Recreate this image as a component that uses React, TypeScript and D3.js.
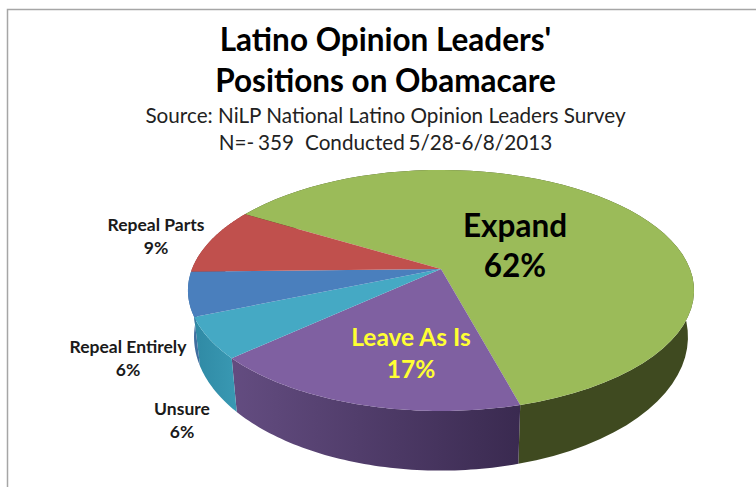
import React from "react";
import * as d3 from "d3";

const categories = ["Expand", "Leave As Is", "Unsure", "Repeal Entirely", "Repeal Parts"];
const shares = [62.2, 17.5, 5.5, 5.9, 8.9];
const topColors = ["#9bbb59", "#7f60a1", "#45a9c4", "#4a7fbd", "#c0504d"];
const wallFrom = ["#3f4a20", "#634c80", "#2e88a3", "#3f6e9f", "#8f3a38"];
const wallTo = ["#3f4a20", "#3a2a50", "#3a9ab4", "#3f6e9f", "#8f3a38"];
const titleLines = ["Latino Opinion Leaders'", "Positions on Obamacare"];
const subtitleLines = ["Source: NiLP National Latino Opinion Leaders Survey", "N=- 359   Conducted 5/28-6/8/2013"];

const W = 756, H = 487;
const apexX = 441, apexY = 269, radX = 249, radY = 116.7, tilt = 0.178;
const wallScaleX = 0.976, wallScaleY = 1.11, wallDrop = 44;
const FONT = "Lato, 'Open Sans', sans-serif";

const top = (a: number): [number, number] => {
  const u = Math.sin(a), v = Math.cos(a), w = 1 + tilt * v;
  return [apexX + (radX * u) / w, apexY - (radY * v) / w];
};
const bottom = (a: number): [number, number] => {
  const [x, y] = top(a);
  return [apexX + (x - apexX) * wallScaleX, apexY + (y - apexY) * wallScaleY + wallDrop];
};
const line = d3.line<[number, number]>();
const start = (300.8 * Math.PI) / 180;
const arcs = d3.pie<number>().sort(null).startAngle(start).endAngle(start + 2 * Math.PI)(shares);
const samples = (a0: number, a1: number) => d3.range(0, 61).map((i) => a0 + ((a1 - a0) * i) / 60);

const labels = [
  { lines: ["Repeal Parts", "9%"], x: 156, y: 231, size: 17.5, color: "#1a1a1a" },
  { lines: ["Repeal Entirely", "6%"], x: 128, y: 353, size: 17.5, color: "#1a1a1a" },
  { lines: ["Unsure", "6%"], x: 182, y: 415, size: 17.5, color: "#1a1a1a" },
  { lines: ["Leave As Is", "17%"], x: 411, y: 346, size: 24.5, color: "#ffff33", gap: 32 },
  { lines: ["Expand", "62%"], x: 515, y: 237, size: 31.5, color: "#000000", gap: 40 },
];

export default function App() {
  return (
    <svg width={W} height={H} style={{ position: "absolute", left: 0, top: 0, background: "#fff" }}>
      <defs>
        {arcs.map((_, i) => (
          <linearGradient key={i} id={`wall${i}`} gradientUnits="userSpaceOnUse" x1={i === 1 ? 235 : 190} x2={i === 1 ? 520 : 240} y1="0" y2="0">
            <stop offset="0" stopColor={wallFrom[i]} />
            <stop offset="1" stopColor={wallTo[i]} />
          </linearGradient>
        ))}
      </defs>
      <path d="M7.5,487V9.5H756" fill="none" stroke="#a6a6a6" strokeWidth={1.5} />
      {titleLines.map((t, i) => (
        <text key={t} x={385.5} y={51 + i * 41} textAnchor="middle" fontFamily={FONT} fontWeight={700} fontSize={31.5} fill="#000">{t}</text>
      ))}
      {subtitleLines.map((t, i) => (
        <text key={t} x={385.5} y={123 + i * 27} textAnchor="middle" fontFamily={FONT} fontSize={20.7} fill="#222" xmlSpace="preserve" wordSpacing={i === 1 ? -1.6 : 0}>{t}</text>
      ))}
      {arcs.map((d, i) => {
        const s = samples(d.startAngle, d.endAngle);
        return <path key={i} d={line([...s.map(top), ...s.slice().reverse().map(bottom)]) + "Z"} fill={`url(#wall${i})`} />;
      })}
      {arcs.map((d, i) => (
        <path key={i} d={line([[apexX, apexY], ...samples(d.startAngle, d.endAngle).map(top)]) + "Z"} fill={topColors[i]} />
      ))}
      {labels.map((l) => (
        <text key={l.lines[0]} textAnchor="middle" fontFamily={FONT} fontWeight={700} fontSize={l.size} fill={l.color}>
          {l.lines.map((t, j) => (
            <tspan key={t} x={l.x} y={l.y + j * (l.gap ?? 23)}>{t}</tspan>
          ))}
        </text>
      ))}
    </svg>
  );
}
